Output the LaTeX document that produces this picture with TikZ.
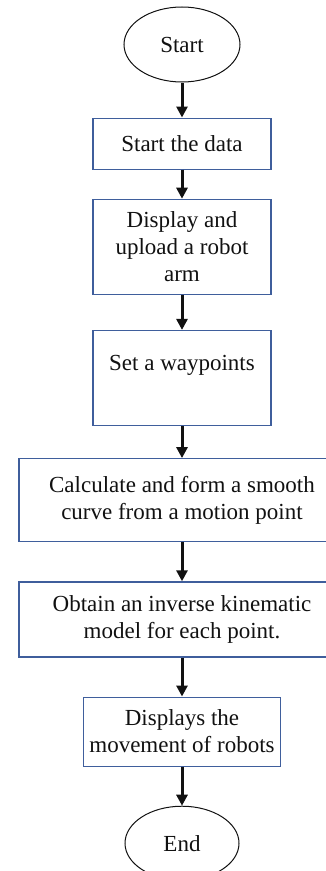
\documentclass[tikz,border=0pt]{standalone}
\usepackage{fontspec}
\setmainfont{Liberation Serif}
\usetikzlibrary{arrows.meta,positioning,shapes.geometric}
\definecolor{boxblue}{HTML}{3F5E9C}
\definecolor{ink}{HTML}{111111}
\tikzset{
  termnode/.style={
    draw=ink,
    line width=1bp,
    ellipse,
    inner sep=0pt,
    minimum width=116bp,
    minimum height=75bp,
    text=ink,
    font=\fontsize{23bp}{27bp}\selectfont
  },
  stepbox/.style={
    draw=boxblue,
    line width=1.2bp,
    rectangle,
    inner sep=0pt,
    minimum width=178bp,
    align=center,
    text=ink,
    font=\fontsize{23bp}{27bp}\selectfont
  },
  widebox/.style={stepbox,minimum width=326bp},
  flowarrow/.style={-{Triangle[length=11bp,width=11bp]},line width=3bp,draw=ink}
}
\begin{document}
\begin{tikzpicture}[x=1bp,y=1bp,node distance=35bp]
\useasboundingbox (0,0) rectangle (325,-871);
\node[termnode] (start) at (182,-44.5) {Start};
\node[stepbox,below=of start,minimum height=51bp] (data) {Start the data};
\node[stepbox,below=29bp of data,minimum height=95bp] (robot) {Display and\\upload a robot\\arm};
\node[stepbox,below=of robot,minimum height=95bp,text depth=30bp] (waypts) {Set a waypoints};
\node[widebox,below=32bp of waypts,minimum height=83bp] (curve) {Calculate and form a smooth\\curve from a motion point};
\node[widebox,below=39bp of curve,minimum height=75bp] (inverse) {Obtain an inverse kinematic\\model for each point.};
\node[stepbox,below=39bp of inverse,minimum width=197bp,minimum height=69bp] (movement) {Displays the\\movement of robots};
\node[termnode,below=39bp of movement,minimum width=114bp,minimum height=74bp] (stop) {End};
\draw[flowarrow] (start) -- (data);
\draw[flowarrow] (data) -- (robot);
\draw[flowarrow] (robot) -- (waypts);
\draw[flowarrow] (waypts) -- (curve);
\draw[flowarrow] (curve) -- (inverse);
\draw[flowarrow] (inverse) -- (movement);
\draw[flowarrow] (movement) -- (stop);
\end{tikzpicture}
\end{document}
